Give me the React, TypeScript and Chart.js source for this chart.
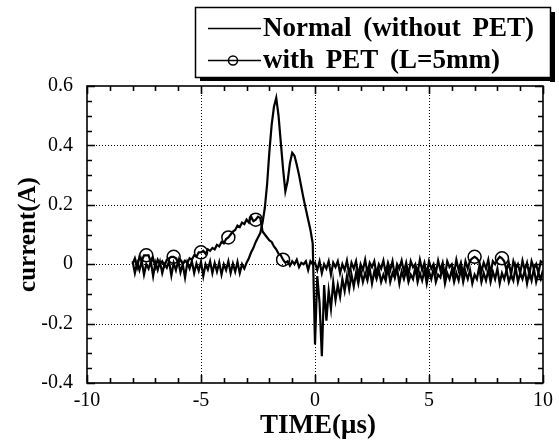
import React, { useEffect, useRef } from "react";
import { Chart, registerables } from "chart.js";

Chart.register(...registerables);

const TIME_US = [
  -8.0, -7.9, -7.8, -7.7, -7.6, -7.5, -7.4, -7.3, -7.2, -7.1,
  -7.0, -6.9, -6.8, -6.7, -6.6, -6.5, -6.4, -6.3, -6.2, -6.1,
  -6.0, -5.9, -5.8, -5.7, -5.6, -5.5, -5.4, -5.3, -5.2, -5.1,
  -5.0, -4.9, -4.8, -4.7, -4.6, -4.5, -4.4, -4.3, -4.2, -4.1,
  -4.0, -3.9, -3.8, -3.7, -3.6, -3.5, -3.4, -3.3, -3.2, -3.1,
  -3.0, -2.9, -2.8, -2.7, -2.6, -2.5, -2.4, -2.3, -2.2, -2.1,
  -2.0, -1.9, -1.8, -1.7, -1.6, -1.5, -1.4, -1.3, -1.2, -1.1,
  -1.0, -0.9, -0.8, -0.7, -0.6, -0.5, -0.4, -0.3, -0.2, -0.1,
  0.0, 0.1, 0.2, 0.3, 0.4, 0.5, 0.6, 0.7, 0.8, 0.9,
  1.0, 1.1, 1.2, 1.3, 1.4, 1.5, 1.6, 1.7, 1.8, 1.9,
  2.0, 2.1, 2.2, 2.3, 2.4, 2.5, 2.6, 2.7, 2.8, 2.9,
  3.0, 3.1, 3.2, 3.3, 3.4, 3.5, 3.6, 3.7, 3.8, 3.9,
  4.0, 4.1, 4.2, 4.3, 4.4, 4.5, 4.6, 4.7, 4.8, 4.9,
  5.0, 5.1, 5.2, 5.3, 5.4, 5.5, 5.6, 5.7, 5.8, 5.9,
  6.0, 6.1, 6.2, 6.3, 6.4, 6.5, 6.6, 6.7, 6.8, 6.9,
  7.0, 7.1, 7.2, 7.3, 7.4, 7.5, 7.6, 7.7, 7.8, 7.9,
  8.0, 8.1, 8.2, 8.3, 8.4, 8.5, 8.6, 8.7, 8.8, 8.9,
  9.0, 9.1, 9.2, 9.3, 9.4, 9.5, 9.6, 9.7, 9.8, 9.9, 10.0,
];

const NORMAL_A = [
  0.01, -0.03, 0.005, -0.02, 0.012, -0.035, 0.0, -0.015, 0.01, -0.04,
  0.005, -0.02, 0.008, -0.03, 0.0, -0.012, 0.01, -0.038, 0.004, -0.02,
  0.012, -0.028, 0.0, -0.045, 0.006, -0.015, 0.01, -0.03, 0.002, -0.022,
  0.008, -0.04, 0.0, -0.018, 0.01, -0.03, 0.004, -0.025, 0.006, -0.035,
  0.0, -0.02, 0.01, -0.03, 0.002, -0.025, 0.008, -0.03, 0.0, -0.015,
  0.005, 0.02, 0.04, 0.055, 0.075, 0.09, 0.105, 0.14, 0.19, 0.27,
  0.38, 0.47, 0.53, 0.56, 0.5, 0.41, 0.32, 0.245, 0.28, 0.34,
  0.375, 0.365, 0.335, 0.3, 0.26, 0.22, 0.185, 0.15, 0.115, 0.07,
  -0.27, -0.04, -0.13, -0.31, -0.07, -0.19, -0.09, -0.15, -0.06, -0.12,
  -0.07, -0.11, -0.05, -0.09, -0.04, -0.085, -0.035, -0.075, -0.03, -0.065,
  -0.02, -0.06, -0.03, -0.055, -0.015, -0.065, -0.025, -0.05, -0.02, -0.06,
  -0.035, -0.055, -0.01, -0.06, -0.03, -0.045, -0.015, -0.065, -0.025, -0.05,
  -0.02, -0.06, -0.035, -0.05, -0.01, -0.06, -0.03, -0.055, -0.02, -0.065,
  -0.025, -0.05, -0.015, -0.06, -0.035, -0.045, -0.01, -0.065, -0.03, -0.05,
  -0.02, -0.06, -0.03, -0.055, -0.015, -0.06, -0.025, -0.05, -0.02, -0.065,
  -0.035, -0.05, -0.01, -0.06, -0.03, -0.055, -0.02, -0.06, -0.025, -0.05,
  -0.015, -0.065, -0.03, -0.05, -0.02, -0.06, -0.035, -0.055, -0.01, -0.06,
  -0.03, -0.05, -0.02, -0.065, -0.025, -0.055, -0.015, -0.06, -0.03, -0.05, -0.02,
];

const PET_A = [
  0.0, 0.02, -0.01, 0.025, 0.01, 0.03, 0.03, 0.03, 0.005, 0.02,
  -0.01, 0.015, 0.0, 0.01, -0.005, 0.015, 0.02, 0.025, 0.025, 0.02,
  0.005, 0.015, 0.0, 0.012, 0.005, 0.02, 0.015, 0.03, 0.025, 0.04,
  0.04, 0.045, 0.035, 0.05, 0.045, 0.055, 0.05, 0.065, 0.06, 0.075,
  0.07, 0.085, 0.09, 0.1, 0.11, 0.115, 0.13, 0.125, 0.14, 0.135,
  0.15, 0.14, 0.16, 0.145, 0.15, 0.16, 0.155, 0.11, 0.1, 0.09,
  0.08, 0.075, 0.06, 0.05, 0.035, 0.03, 0.015, 0.005, 0.01, -0.005,
  0.01, 0.0, 0.015, -0.01, 0.005, 0.0, 0.01, -0.02, 0.01, 0.0,
  0.005, -0.02, 0.01, -0.03, 0.0, -0.015, 0.01, -0.035, 0.005, -0.01,
  0.01, -0.03, 0.0, -0.02, 0.012, -0.035, 0.005, -0.015, 0.01, -0.04,
  0.0, -0.02, 0.015, -0.03, 0.005, -0.01, 0.01, -0.035, 0.0, -0.015,
  0.012, -0.03, 0.005, -0.02, 0.01, -0.04, 0.0, -0.015, 0.012, -0.025,
  0.005, -0.035, 0.01, -0.01, 0.0, -0.03, 0.015, -0.02, 0.005, -0.035,
  0.01, -0.015, 0.0, -0.03, 0.012, -0.02, 0.005, -0.04, 0.01, -0.01,
  0.0, -0.03, 0.015, -0.02, 0.005, -0.035, 0.01, -0.015, 0.012, 0.02,
  0.025, 0.02, 0.01, -0.025, 0.005, -0.015, 0.015, -0.03, 0.01, 0.0,
  0.015, 0.025, 0.02, 0.01, -0.02, 0.005, -0.035, 0.01, -0.015, 0.0,
  -0.03, 0.012, -0.02, 0.005, -0.035, 0.01, -0.015, 0.0, -0.03, 0.01, 0.005,
];

// markers that are visible in the picture (others are hidden in the noise band)
const PET_MARKER_TIMES = [-7.4, -6.2, -5.0, -3.8, -2.6, -1.4, 7.0, 8.2];

const X_TICKS = [-10, -5, 0, 5, 10];
const Y_TICKS = [-0.4, -0.2, 0, 0.2, 0.4, 0.6];
const LEGEND_LABELS = ["Normal (without PET)", "with PET (L=5mm)"];
const X_TITLE = "TIME(μs)";
const Y_TITLE = "current(A)";

const SERIF = "'Liberation Serif', 'Times New Roman', serif";

const framePlugin = {
  id: "frame",
  beforeDatasetsDraw(chart: any) {
    const { ctx, chartArea: a, scales } = chart;
    const xs = scales.x, ys = scales.y;
    ctx.save();
    ctx.strokeStyle = "#000";
    ctx.lineWidth = 1;
    ctx.setLineDash([1, 2]);
    for (const v of X_TICKS) {
      const px = Math.round(xs.getPixelForValue(v)) + 0.5;
      if (px <= a.left + 2 || px >= a.right - 2) continue;
      ctx.beginPath(); ctx.moveTo(px, a.top); ctx.lineTo(px, a.bottom); ctx.stroke();
    }
    for (const v of Y_TICKS) {
      const py = Math.round(ys.getPixelForValue(v)) + 0.5;
      if (py <= a.top + 2 || py >= a.bottom - 2) continue;
      ctx.beginPath(); ctx.moveTo(a.left, py); ctx.lineTo(a.right, py); ctx.stroke();
    }
    ctx.restore();
  },
  afterDatasetsDraw(chart: any) {
    const { ctx, chartArea: a, scales } = chart;
    const xs = scales.x, ys = scales.y;
    ctx.save();
    ctx.strokeStyle = "#000";
    ctx.lineWidth = 1.6;
    ctx.setLineDash([]);
    ctx.strokeRect(a.left, a.top, a.right - a.left, a.bottom - a.top);
    for (let i = -10; i <= 10; i++) {
      const major = i % 5 === 0;
      const len = major ? 8 : 5;
      const px = Math.round(xs.getPixelForValue(i)) + 0.5;
      ctx.beginPath();
      ctx.moveTo(px, a.bottom); ctx.lineTo(px, a.bottom - len);
      ctx.moveTo(px, a.top); ctx.lineTo(px, a.top + len);
      ctx.stroke();
    }
    for (let k = -8; k <= 12; k++) {
      const v = k * 0.05;
      const major = k % 4 === 0;
      const len = major ? 8 : 5;
      const py = Math.round(ys.getPixelForValue(v)) + 0.5;
      ctx.beginPath();
      ctx.moveTo(a.left, py); ctx.lineTo(a.left + len, py);
      ctx.moveTo(a.right, py); ctx.lineTo(a.right - len, py);
      ctx.stroke();
    }
    ctx.restore();
  },
  afterDraw(chart: any) {
    const { ctx, chartArea: a } = chart;
    ctx.save();
    ctx.fillStyle = "#000";
    ctx.font = `bold 27px ${SERIF}`;
    ctx.textAlign = "center";
    ctx.textBaseline = "middle";
    ctx.fillText(X_TITLE, (a.left + a.right) / 2 + 3, 426);
    ctx.save();
    ctx.translate(29, (a.top + a.bottom) / 2);
    ctx.rotate(-Math.PI / 2);
    ctx.font = `bold 25px ${SERIF}`;
    ctx.fillText(Y_TITLE, 0, 0);
    ctx.restore();

    // legend box with drop shadow
    const L = 195, T = 7, R = 550, B = 77;
    ctx.fillStyle = "#fff";
    ctx.fillRect(L, T, R - L, B - T);
    ctx.fillStyle = "#000";
    ctx.fillRect(R, T + 5, 5, B - T);
    ctx.fillRect(L + 5, B, R - L, 4);
    ctx.strokeStyle = "#000";
    ctx.lineWidth = 1.5;
    ctx.strokeRect(L + 0.5, T + 0.5, R - L, B - T);

    ctx.lineWidth = 1.5;
    ctx.beginPath(); ctx.moveTo(208, 28.5); ctx.lineTo(261, 28.5); ctx.stroke();
    ctx.beginPath(); ctx.moveTo(208, 60.5); ctx.lineTo(261, 60.5); ctx.stroke();
    ctx.beginPath(); ctx.arc(233, 60.5, 4.5, 0, Math.PI * 2); ctx.stroke();

    ctx.font = `bold 27px ${SERIF}`;
    (ctx as any).wordSpacing = "5px";
    ctx.textAlign = "left";
    ctx.textBaseline = "middle";
    ctx.fillText(LEGEND_LABELS[0], 263, 29);
    ctx.fillText(LEGEND_LABELS[1], 263, 61);
    ctx.restore();
  },
};

export default function App() {
  const canvasRef = useRef<HTMLCanvasElement | null>(null);

  useEffect(() => {
    if (!canvasRef.current) return;
    const markerSet = new Set(PET_MARKER_TIMES.map((t) => t.toFixed(1)));
    const normalData = TIME_US.map((t, i) => ({ x: t, y: NORMAL_A[i] }));
    const petData = TIME_US.map((t, i) => ({ x: t, y: PET_A[i] }));
    const petRadius = TIME_US.map((t) => (markerSet.has(t.toFixed(1)) ? 6.5 : 0));

    const chart = new Chart(canvasRef.current, {
      type: "line",
      data: {
        datasets: [
          {
            label: LEGEND_LABELS[0],
            data: normalData,
            borderColor: "#000",
            borderWidth: 2.2,
            pointRadius: 0,
            tension: 0,
          },
          {
            label: LEGEND_LABELS[1],
            data: petData,
            borderColor: "#000",
            borderWidth: 2.2,
            pointRadius: petRadius,
            pointHoverRadius: petRadius,
            pointBorderColor: "#000",
            pointBackgroundColor: "rgba(0,0,0,0)",
            pointBorderWidth: 1.5,
            tension: 0,
          },
        ],
      },
      options: {
        animation: false,
        responsive: true,
        maintainAspectRatio: false,
        devicePixelRatio: 1,
        layout: { padding: { top: 86, right: 10, left: 0, bottom: 0 } },
        plugins: { legend: { display: false }, tooltip: { enabled: false }, title: { display: false } },
        scales: {
          x: {
            type: "linear",
            min: -10,
            max: 10,
            afterFit: (s: any) => { s.height = 61; },
            afterBuildTicks: (s: any) => { s.ticks = X_TICKS.map((v) => ({ value: v })); },
            grid: { display: false, drawTicks: false },
            border: { display: false },
            ticks: { color: "#000", padding: 6, font: { family: SERIF, size: 20 }, maxRotation: 0 },
          },
          y: {
            type: "linear",
            min: -0.4,
            max: 0.6,
            afterFit: (s: any) => { s.width = 87; },
            afterBuildTicks: (s: any) => { s.ticks = Y_TICKS.map((v) => ({ value: v })); },
            grid: { display: false, drawTicks: false },
            border: { display: false },
            ticks: {
              color: "#000",
              padding: 14,
              font: { family: SERIF, size: 20 },
              callback: (v: any) => String(Math.round(Number(v) * 10) / 10),
            },
          },
        },
      },
      plugins: [framePlugin],
    });
    return () => chart.destroy();
  }, []);

  return (
    <div style={{ position: "absolute", left: 0, top: 0, width: 559, height: 444, background: "#fff" }}>
      <canvas ref={canvasRef} />
    </div>
  );
}
